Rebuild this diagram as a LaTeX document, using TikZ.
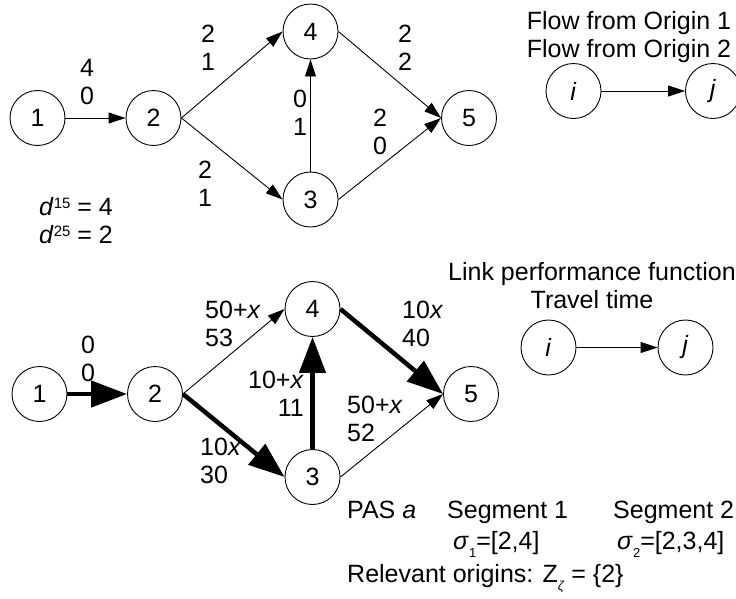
\documentclass[tikz,border=0pt]{standalone}
\usepackage{fontspec}
\setmainfont{Liberation Sans}
\usetikzlibrary{arrows.meta}
\begin{document}
\begin{tikzpicture}[x=1pt,y=-1pt,
  nd/.style={circle,draw,line width=0.9pt,minimum size=55pt,inner sep=0pt,font=\fontsize{25}{28}\selectfont},
  thinarr/.style={line width=0.9pt,-{Triangle[length=17pt,width=11pt]}},
  thickarr/.style={line width=4.5pt,-{Triangle[length=36pt,width=26pt]}},
  lbl/.style={font=\fontsize{25}{28}\selectfont,inner sep=0pt},
]
\useasboundingbox (0,0) rectangle (736,598);
% top network
\node[nd] (a1) at (37.5,118) {1};
\node[nd] (a2) at (153.5,118) {2};
\node[nd] (a4) at (310.5,31.5) {4};
\node[nd] (a3) at (310.5,199.5) {3};
\node[nd] (a5) at (469,118) {5};
\draw[thinarr] (a1.east) -- (a2.west);
\draw[thinarr] (a2.east) -- (a4.west);
\draw[thinarr] (a2.east) -- (a3.west);
\draw[thinarr] (a3.north) -- (a4.south);
\draw[thinarr] (a4.east) -- (a5.west);
\draw[thinarr] (a3.east) -- (a5.west);
\node[lbl,align=center] (la12) at (87,82.5) {4\\0};
\node[lbl,align=center] (la24) at (208,48) {2\\1};
\node[lbl,align=center] (la23) at (205,184) {2\\1};
\node[lbl,align=center] (la34) at (300,112.5) {0\\1};
\node[lbl,align=center] (la35) at (380,131.5) {2\\0};
\node[lbl,align=center] (la45) at (405,48) {2\\2};
\node[lbl,align=left,anchor=west] (dem) at (39,221) {\textit{d}\raisebox{7pt}{\fontsize{15}{15}\selectfont 15} = 4\\\textit{d}\raisebox{7pt}{\fontsize{15}{15}\selectfont 25} = 2};
% top legend
\node[lbl,align=center] (lg1) at (629,37) {Flow from Origin 1\\Flow from Origin 2};
\node[nd] (li1) at (573.5,91) {\textit{i}};
\node[nd] (lj1) at (713,91) {\textit{j}};
\draw[thinarr] (li1.east) -- (lj1.west);
% bottom network
\node[nd] (b1) at (39.5,394) {1};
\node[nd] (b2) at (155,394) {2};
\node[nd] (b4) at (312.5,309) {4};
\node[nd] (b3) at (312.5,477) {3};
\node[nd] (b5) at (471,394) {5};
\draw[thickarr] (b1.east) -- (b2.west);
\draw[thinarr] (b2.east) -- (b4.west);
\draw[thickarr] (b2.east) -- (b3.west);
\draw[thickarr] (b3.north) -- (b4.south);
\draw[thickarr] (b4.east) -- (b5.west);
\draw[thinarr] (b3.east) -- (b5.west);
\node[lbl,align=center] (lb12) at (88,358.5) {0\\0};
\node[lbl,align=left,anchor=west] (lb24) at (205,324) {50+\textit{x}\\53};
\node[lbl,align=left,anchor=west] (lb23) at (200,461) {10\textit{x}\\30};
\node[lbl,align=right,anchor=east] (lb34) at (304,393.5) {10+\textit{x}\\11};
\node[lbl,align=left,anchor=west] (lb35) at (347,419) {50+\textit{x}\\52};
\node[lbl,align=left,anchor=west] (lb45) at (402,324) {10\textit{x}\\40};
% bottom legend
\node[lbl,align=center] (lg2) at (592,286) {Link performance function\\Travel time};
\node[nd] (li2) at (548.5,347.5) {\textit{i}};
\node[nd] (lj2) at (685.5,347.5) {\textit{j}};
\draw[thinarr] (li2.east) -- (lj2.west);
% PAS text
\node[lbl,anchor=base west] (pas) at (347,518) {PAS \textit{a}};
\node[lbl,anchor=base west] (seg1) at (447,518) {Segment 1};
\node[lbl,anchor=base west] (seg2) at (613,518) {Segment 2};
\node[lbl,anchor=base west] (sig1) at (453,549) {\textit{σ}\raisebox{-8pt}{\fontsize{13}{13}\selectfont 1}=[2,4]};
\node[lbl,anchor=base west] (sig2) at (617,549) {\textit{σ}\raisebox{-8pt}{\fontsize{13}{13}\selectfont 2}=[2,3,4]};
\node[lbl,anchor=base west] (rel) at (347,582) {Relevant origins: Z\raisebox{-8pt}{\fontsize{13}{13}\selectfont\textit{ζ}} = \{2\}};
\end{tikzpicture}
\end{document}
